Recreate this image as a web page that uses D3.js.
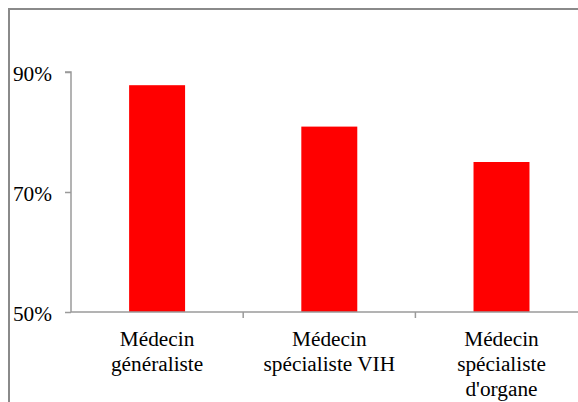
<!DOCTYPE html>
<html><head><meta charset="utf-8">
<script src="https://cdn.jsdelivr.net/npm/d3@7"></script>
<style>html,body{margin:0;padding:0;background:#fff;overflow:hidden}
svg text{font-family:"Liberation Serif","Times New Roman",Times,"DejaVu Serif",serif !important;}</style>
</head><body>
<svg id="c" width="578" height="402"></svg>
<script>
const categories = [["Médecin","généraliste"],["Médecin","spécialiste VIH"],["Médecin","spécialiste","d'organe"]];
const values = [87.8, 80.9, 75.0];
const tickValues = [50, 70, 90];
const tickLabels = ["50%", "70%", "90%"];

const svg = d3.select("#c");
const axisColor = "#9a9a9a";

// outer border
svg.append("rect").attr("x",9).attr("y",9).attr("width",620).attr("height",500)
  .attr("fill","none").attr("stroke","#8a8a8a").attr("stroke-width",2);

const mLeft = 71, mBottom = 312, mTop = 72, mRight = 587.6;
const x = d3.scaleBand().domain(d3.range(categories.length)).range([mLeft, mRight])
  .paddingInner(0.675).paddingOuter(0.3375);
const xc = d3.scaleBand().domain(d3.range(categories.length)).range([mLeft, mRight]).padding(0);
const y = d3.scaleLinear().domain([50, 90]).range([mBottom, mTop]);

// bars
svg.selectAll("rect.bar").data(values).join("rect").attr("class","bar")
  .attr("x",(d,i)=>x(i)).attr("width",x.bandwidth())
  .attr("y",d=>y(d)).attr("height",d=>y(50)-y(d))
  .attr("fill","#ff0000");

// y axis
const yAxis = d3.axisLeft(y).tickValues(tickValues).tickSize(6).tickPadding(13)
  .tickFormat((d,i)=>tickLabels[i]);
const gy = svg.append("g").attr("transform",`translate(${mLeft},0)`).call(yAxis);
gy.attr("font-family",null);
gy.select(".domain").attr("d",`M-6,${mTop}H0V${mBottom}`).attr("stroke",axisColor).attr("stroke-width",1.5);
gy.selectAll(".tick line").attr("stroke",axisColor).attr("stroke-width",1.5);
gy.selectAll(".tick text").attr("font-size",21.3).attr("fill","#000")
  .attr("dy","0.4em");

// x axis line and ticks
svg.append("line").attr("x1",mLeft).attr("x2",578).attr("y1",mBottom).attr("y2",mBottom)
  .attr("stroke",axisColor).attr("stroke-width",1.5);
svg.selectAll("line.xt").data(d3.range(1,categories.length)).join("line").attr("class","xt")
  .attr("x1",i=>xc(i)).attr("x2",i=>xc(i)).attr("y1",mBottom).attr("y2",mBottom+6)
  .attr("stroke",axisColor).attr("stroke-width",1.5);

// category labels
const lab = svg.selectAll("text.cat").data(categories).join("text").attr("class","cat")
  .attr("text-anchor","middle").attr("font-size",21.3).attr("fill","#000");
lab.each(function(lines,i){
  d3.select(this).selectAll("tspan").data(lines).join("tspan")
    .attr("x", xc(i)+xc.bandwidth()/2)
    .attr("y",(l,j)=>345.5 + j*25.3)
    .text(l=>l);
});
</script>
</body></html>
